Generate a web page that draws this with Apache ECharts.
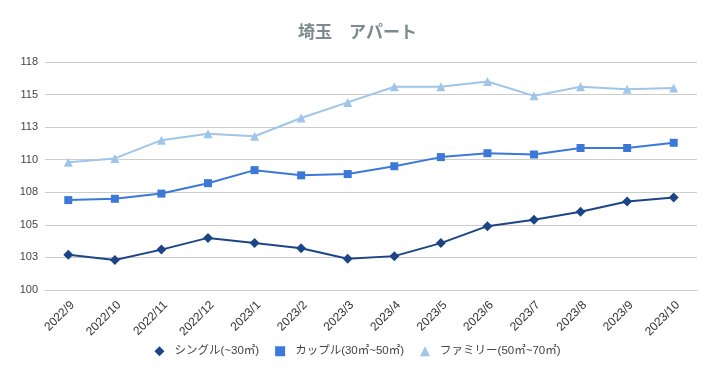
<!DOCTYPE html>
<html><head><meta charset="utf-8">
<script src="https://cdn.jsdelivr.net/npm/echarts@6/dist/echarts.min.js"></script>
<style>html,body{margin:0;padding:0;background:#fff}#c{width:715px;height:379px}</style>
</head><body><div id="c"></div>
<script>
const categories = ["2022/9","2022/10","2022/11","2022/12","2023/1","2023/2","2023/3","2023/4","2023/5","2023/6","2023/7","2023/8","2023/9","2023/10"];
const single = [102.7,102.3,103.1,104.0,103.6,103.2,102.4,102.6,103.6,104.9,105.4,106.0,106.8,107.1];
const couple = [106.9,107.0,107.4,108.2,109.2,108.8,108.9,109.5,110.2,110.5,110.4,110.9,110.9,111.3];
const family = [109.8,110.1,111.5,112.0,111.8,113.2,114.4,115.6,115.6,116.0,114.9,115.6,115.4,115.5];
const seriesNames = ["シングル(~30㎡)","カップル(30㎡~50㎡)","ファミリー(50㎡~70㎡)"];
const titleText = "埼玉　アパート";

const font = '"Liberation Sans", "Noto Sans CJK JP", sans-serif';
const chart = echarts.init(document.getElementById('c'));
chart.setOption({
  animation: false,
  title: {text: titleText, left: 'center', top: 18,
    textStyle: {fontSize: 17, fontWeight: 'bold', color: '#7f8a8c', fontFamily: '"Noto Sans CJK JP", sans-serif'}},
  grid: {left: 45, right: 18, top: 62, height: 228},
  legend: {bottom: 17, itemWidth: 10, itemHeight: 10, itemGap: 16,
    textStyle: {fontSize: 11.5, color: '#444', fontFamily: font, padding: [0, 0, 0, 5]},
    data: [
      {name: seriesNames[0], icon: 'diamond'},
      {name: seriesNames[1], icon: 'rect'},
      {name: seriesNames[2], icon: 'triangle'}
    ]},
  xAxis: {type: 'category', data: categories, boundaryGap: true,
    axisLine: {lineStyle: {color: '#ccc'}}, axisTick: {show: false},
    axisLabel: {rotate: 45, fontSize: 12, color: '#333', fontFamily: font, margin: 9, interval: 0,
      verticalAlign: 'top'}},
  yAxis: {type: 'value', min: 100, max: 117.5, interval: 2.5,
    axisLine: {show: false}, axisTick: {show: false},
    splitLine: {lineStyle: {color: '#ccc'}},
    axisLabel: {fontSize: 11, color: '#444', fontFamily: font, margin: 7,
      formatter: v => String(Math.round(v))}},
  series: [
    {name: seriesNames[0], type: 'line', data: single, color: '#1c4587',
      symbol: 'diamond', symbolSize: 10, lineStyle: {width: 2}},
    {name: seriesNames[1], type: 'line', data: couple, color: '#3c78d8',
      symbol: 'rect', symbolSize: 8, lineStyle: {width: 2}},
    {name: seriesNames[2], type: 'line', data: family, color: '#9fc5e8',
      symbol: 'triangle', symbolSize: 9, lineStyle: {width: 2}}
  ]
});
</script></body></html>
